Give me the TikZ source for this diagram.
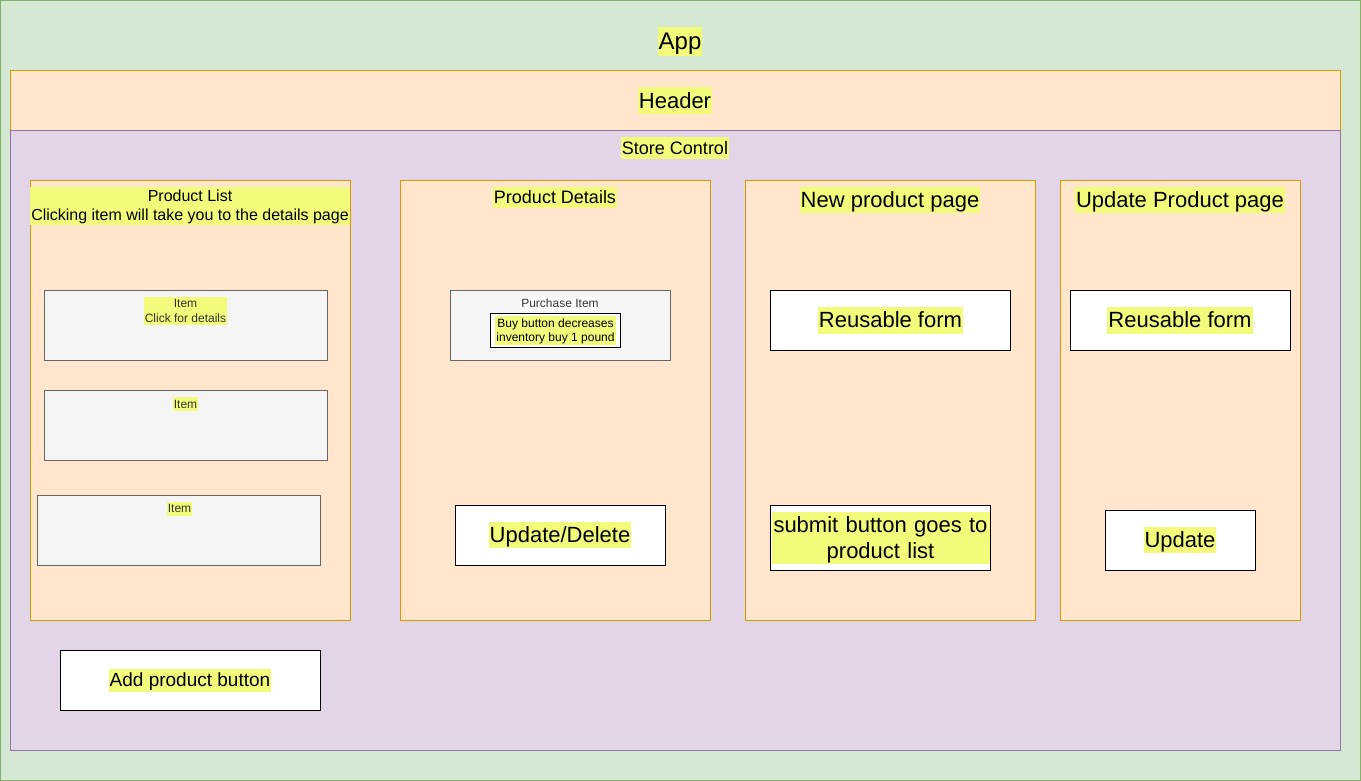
\documentclass[tikz,border=0pt]{standalone}
\usepackage{fontspec}
\setmainfont{Liberation Sans}
\definecolor{appfill}{HTML}{D5E8D4}
\definecolor{appline}{HTML}{82B366}
\definecolor{orfill}{HTML}{FFE6CC}
\definecolor{orline}{HTML}{D79B00}
\definecolor{pufill}{HTML}{E1D5E7}
\definecolor{puline}{HTML}{9673A6}
\definecolor{grfill}{HTML}{F5F5F5}
\definecolor{grline}{HTML}{666666}
\definecolor{grtext}{HTML}{333333}
\definecolor{hlyellow}{HTML}{F3FC7A}
\newcommand\hstrut{\rule[-0.2535em]{0pt}{1.2em}}
\tikzset{
  every node/.style={inner sep=0pt, outer sep=0pt},
  frame/.style={draw, line width=1pt, rectangle},
  appbox/.style={frame, draw=appline, fill=appfill},
  orangebox/.style={frame, draw=orline, fill=orfill},
  purplebox/.style={frame, draw=puline, fill=pufill},
  itembox/.style={frame, draw=grline, fill=grfill},
  whitebox/.style={frame, draw=black, fill=white},
  hl/.style={fill=hlyellow, inner xsep=1pt, inner ysep=0pt, align=center, text=black},
  fxxiv/.style={font=\fontsize{24}{28.8}\selectfont},
  fxxii/.style={font=\fontsize{22}{26.4}\selectfont},
  fxix/.style={font=\fontsize{19}{22.8}\selectfont},
  fxviii/.style={font=\fontsize{18}{21.6}\selectfont},
  fxvi/.style={font=\fontsize{16}{19.2}\selectfont},
  fxii/.style={font=\fontsize{12}{14.4}\selectfont},
}
\begin{document}
\begin{tikzpicture}[x=1pt,y=-1pt]
\useasboundingbox (0,0) rectangle (1361,781);
% containers
\node[appbox, minimum width=1360, minimum height=780] (app) at (680.5,390.5) {};
\node[orangebox, minimum width=1330, minimum height=60] (header) at (675.5,100.5) {};
\node[purplebox, minimum width=1330, minimum height=620] (store) at (675.5,440.5) {};
\node[orangebox, minimum width=320, minimum height=440] (plist) at (190.5,400.5) {};
\node[orangebox, minimum width=310, minimum height=440] (pdet) at (555.5,400.5) {};
\node[orangebox, minimum width=290, minimum height=440] (newp) at (890.5,400.5) {};
\node[orangebox, minimum width=240, minimum height=440] (updp) at (1180.5,400.5) {};
% items
\node[itembox, minimum width=283, minimum height=70] (item1) at (186,325.5) {};
\node[itembox, minimum width=283, minimum height=70] (item2) at (186,425.5) {};
\node[itembox, minimum width=283, minimum height=70] (item3) at (179,530.5) {};
\node[itembox, minimum width=220, minimum height=70] (purch) at (560.5,325.5) {};
\node[whitebox, minimum width=130, minimum height=34] (buy) at (555.5,330.5) {};
\node[whitebox, minimum width=210, minimum height=60] (upddel) at (560.5,535.5) {};
\node[whitebox, minimum width=240, minimum height=60] (form1) at (890.5,320.5) {};
\node[whitebox, minimum width=220, minimum height=60] (form2) at (1180.5,320.5) {};
\node[whitebox, minimum width=220, minimum height=65] (submit) at (880.5,538) {};
\node[whitebox, minimum width=150, minimum height=60] (update) at (1180.5,540.5) {};
\node[whitebox, minimum width=260, minimum height=60] (addbtn) at (190.5,680.5) {};
% labels
\node[hl, fxxiv] (appL) at (680,41.5) {\hstrut App};
\node[hl, fxxii] (headerL) at (675,100.5) {\hstrut Header};
\node[hl, fxviii] (storeL) at (675,148) {\hstrut Store Control};
\node[hl, fxvi] (plistL) at (190,205.8) {\hstrut Product List\\Clicking item will take you to the details page\hstrut};
\node[hl, fxviii] (pdetL) at (555,197.5) {\hstrut Product Details};
\node[hl, fxxii] (newpL) at (890,200) {\hstrut New product page};
\node[hl, fxxii] (updpL) at (1180,200) {\hstrut Update Product page};
\node[hl, fxii, text=grtext] (item1L) at (185.5,311) {\hstrut Item\\Click for details\hstrut};
\node[hl, fxii, text=grtext] (item2L) at (185.5,404) {\hstrut Item};
\node[hl, fxii, text=grtext] (item3L) at (179.5,508.7) {\hstrut Item};
\node[hl, fxii, fill=white, text=grtext] (purchL) at (560,303.7) {\hstrut Purchase Item};
\node[hl, fxii] (buyL) at (555.5,330.5) {\hstrut Buy button decreases\\inventory buy 1 pound\hstrut};
\node[hl, fxxii] (upddelL) at (560,535) {\hstrut Update/Delete};
\node[hl, fxxii] (form1L) at (890.5,320.3) {\hstrut Reusable form};
\node[hl, fxxii] (form2L) at (1180,320.3) {\hstrut Reusable form};
\node[hl, fxxii, text width=216pt] (submitL) at (880.5,538) {\hstrut submit button goes to\\product list\hstrut};
\node[hl, fxxii] (updateL) at (1180,540) {\hstrut Update};
\node[hl, fxix] (addbtnL) at (190,680.3) {\hstrut Add product button};
\end{tikzpicture}
\end{document}
